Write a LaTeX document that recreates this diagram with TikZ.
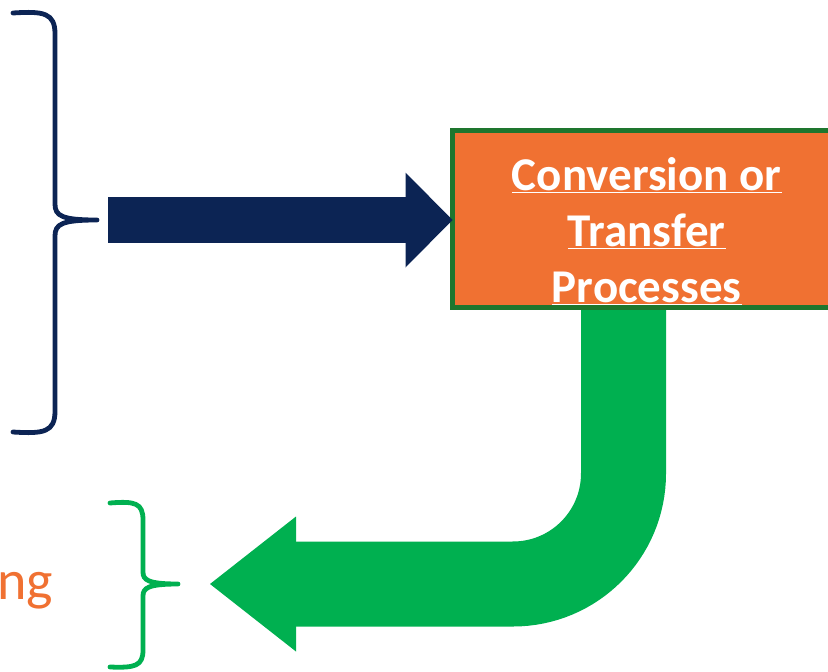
\documentclass[tikz,border=0pt]{standalone}
\usepackage{fontspec}
\setmainfont{Carlito}
\definecolor{navyBlue}{RGB}{12, 36, 84}
\definecolor{brightGreen}{RGB}{0, 176, 80}
\definecolor{darkGreen}{RGB}{30, 118, 46}
\definecolor{warmOrange}{RGB}{240, 113, 50}
\usetikzlibrary{arrows.meta,backgrounds,calc}

\begin{document}
\begin{tikzpicture}[x=1pt,y=-1pt,
    bracepath/.style={line width=4.8pt,line cap=round,line join=round},
    procbox/.style={draw=darkGreen,fill=warmOrange,line width=4.5pt,inner sep=0pt,outer sep=0pt,
      minimum width=392.5pt,minimum height=177pt},
    proctext/.style={text=white,align=center,inner sep=0pt,
      font=\fontsize{47}{56}\selectfont\bfseries}]
    \clip (0,0) rectangle (828,672);
    % Input brace and its tip
    \coordinate (nbtip) at (97,220);
    \draw[bracepath,navyBlue] (13,13) .. controls (44,11) and (55,13) .. (55,34)
        -- (55,204) .. controls (55,216) and (62,220) .. (nbtip)
        .. controls (62,220) and (55,224) .. (55,236)
        -- (55,411) .. controls (55,432) and (44,434) .. (13,432);
    % Output brace and its tip
    \coordinate (gbtip) at (178,584);
    \draw[bracepath,brightGreen] (110,503) .. controls (135,501) and (143,503) .. (143,520)
        -- (143,572) .. controls (143,580) and (148,584) .. (gbtip)
        .. controls (148,584) and (143,588) .. (143,596)
        -- (143,650) .. controls (143,666) and (135,668) .. (110,667);
    % Process box
    \node[procbox] (proc) at (648.75,219) {};
    \node[proctext] (proclabel) at ([shift={(-2,12.5)}]proc.center)
        {\underline{Conversion or}\\\underline{Transfer}\\\underline{Processes}};
    % Input arrow
    \draw[navyBlue,line width=46pt,-{Triangle[length=47pt,width=95pt,line width=0pt]},shorten <=11pt]
        (nbtip) -- (nbtip -| proc.west);
    % Output arrow, bent back to the left
    \begin{scope}[on background layer]
        \draw[brightGreen,line width=85pt,rounded corners=110.5pt,
            -{Triangle[length=86pt,width=135pt,line width=0pt]},shorten >=32pt]
            ([xshift=-25.25pt]proc.south) |- (gbtip);
    \end{scope}
    % Cut-off label
    \node[font=\fontsize{56}{66}\selectfont,text=warmOrange,anchor=base east,inner sep=0pt] (tail) at (53,599) {ng};
\end{tikzpicture}
\end{document}
